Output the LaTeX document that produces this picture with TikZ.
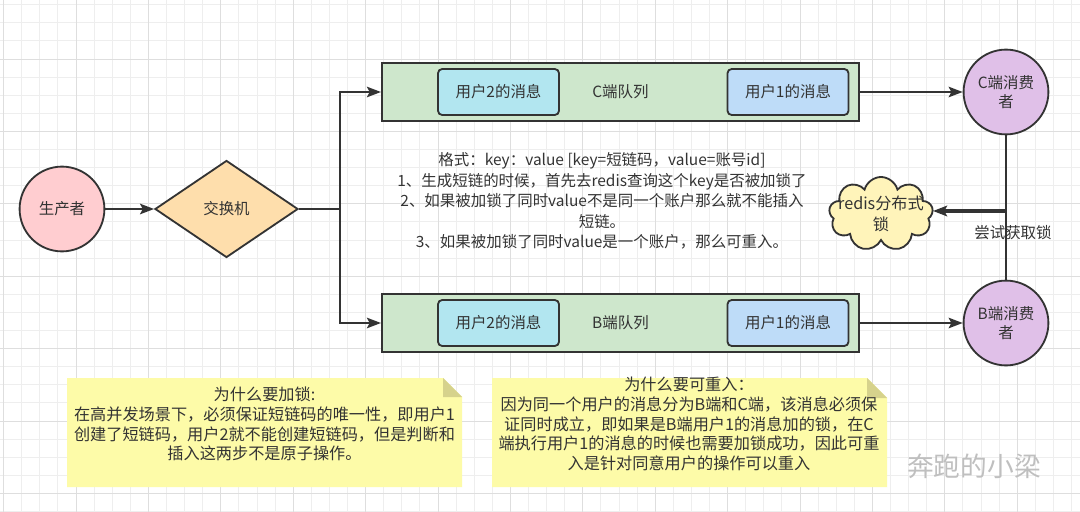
\documentclass[tikz,border=0pt]{standalone}
\usepackage{fontspec}
\setmainfont{Noto Sans CJK SC}
\usetikzlibrary{arrows.meta,shapes.geometric,shapes.symbols,positioning}
\definecolor{inkdark}{RGB}{51,51,51}
\definecolor{producerpink}{RGB}{255,205,208}
\definecolor{switchorange}{RGB}{254,222,172}
\definecolor{queuegreen}{RGB}{206,231,204}
\definecolor{msgcyan}{RGB}{178,230,240}
\definecolor{msgblue}{RGB}{190,220,248}
\definecolor{consumerpurple}{RGB}{224,192,232}
\definecolor{lockyellow}{RGB}{255,244,186}
\definecolor{noteyellow}{RGB}{253,251,168}
\definecolor{notefold}{RGB}{214,210,140}
\definecolor{gridminor}{RGB}{238,238,238}
\definecolor{gridmajor}{RGB}{222,222,222}

\begin{document}
\begin{tikzpicture}[x=0.025cm,y=-0.025cm,
  every node/.style={font=\fontsize{11}{14}\selectfont,text=inkdark},
  wire/.style={line width=1.3pt,draw=inkdark},
  arr/.style={wire,-{Stealth[length=10pt,width=7.5pt,inset=2pt]}},
  heavyarr/.style={arr,line width=2.6pt},
  roundnode/.style={circle,draw=inkdark,line width=1.3pt,minimum size=2.12cm,
    inner sep=0pt,align=center},
  queuebox/.style={rectangle,draw=inkdark,line width=1.4pt,fill=queuegreen,
    minimum width=11.925cm,minimum height=1.45cm},
  msgbox/.style={rectangle,rounded corners=3pt,draw=inkdark,line width=1.3pt,
    minimum width=3.025cm,minimum height=1.15cm},
  notetext/.style={align=center,font=\fontsize{11.5}{14}\selectfont}]
\useasboundingbox (0,0) rectangle (1080,512);
\fill[white] (0,0) rectangle (1080,512);
\foreach \i in {0,...,59}
  \draw[gridminor,line width=0.6pt] ({3.6+18.1*\i},0) -- ({3.6+18.1*\i},512);
\foreach \i in {0,...,28}
  \draw[gridminor,line width=0.6pt] (0,{4.7+18.1*\i}) -- (1080,{4.7+18.1*\i});
\foreach \i in {0,...,14}
  \draw[gridmajor,line width=0.6pt] ({3.6+72.4*\i},0) -- ({3.6+72.4*\i},512);
\foreach \i in {0,...,6}
  \draw[gridmajor,line width=0.6pt] (0,{59+72.4*\i}) -- (1080,{59+72.4*\i});

\node[roundnode,fill=producerpink] (producer) at (62,209) {生产者};
\node[diamond,draw=inkdark,line width=1.3pt,fill=switchorange,aspect=1.47,
  minimum width=3.575cm,minimum height=2.425cm,inner sep=0pt] (exchange) at (226.5,209) {交换机};
\node[queuebox] (cqueue) at (620.5,92) {C端队列};
\node[queuebox] (bqueue) at (620.5,323) {B端队列};
\foreach \q/\y in {c/92,b/323}{
  \node[msgbox,fill=msgcyan] (\q2msg) at (498.5,\y) {用户2的消息};
  \node[msgbox,fill=msgblue] (\q1msg) at (788,\y) {用户1的消息};}
\node[roundnode,fill=consumerpurple] (cconsumer) at (1006,92) {C端消费\\者};
\node[roundnode,fill=consumerpurple] (bconsumer) at (1006,323) {B端消费\\者};
\node[cloud,cloud puffs=9,aspect=1.35,draw=inkdark,line width=1.3pt,fill=lockyellow,
  minimum width=2.6cm,minimum height=1.85cm,inner sep=0pt] (lock) at (881,214) {};
\node[align=center,font=\fontsize{11.5}{14.5}\selectfont] (locktext) at (lock.center) {redis分布式\\锁};

\node[align=center,font=\fontsize{11}{14.5}\selectfont] (rules) at (602,201)
  {格式：key：value [key=短链码，value=账号id]\\
   1、生成短链的时候，首先去redis查询这个key是否被加锁了\\
   2、如果被加锁了同时value不是同一个账户那么就不能插入\\
   短链。\\
   3、如果被加锁了同时value是一个账户，那么可重入。};

\draw[arr] (producer) -- (exchange);
\coordinate (fork) at (340,209);
\draw[wire] (exchange) -- (fork);
\draw[arr] (fork) |- (cqueue);
\draw[arr] (fork) |- (bqueue);
\draw[arr] (cqueue) -- (cconsumer);
\draw[arr] (bqueue) -- (bconsumer);
\draw[wire] (cconsumer) -- (bconsumer);
\coordinate (tap) at (1006,211);
\draw[heavyarr] (tap) -- (tap -| lock.east);
\node (trylock) at (1013,233) {尝试获取锁};

\fill[noteyellow] (67,378) -- (443,378) -- (462,397) -- (462,487) -- (67,487) -- cycle;
\fill[notefold] (443,378) -- (462,397) -- (443,397) -- cycle;
\node[notetext] (whylock) at (264.5,424)
  {为什么要加锁:\\
   在高并发场景下，必须保证短链码的唯一性，即用户1\\
   创建了短链码，用户2就不能创建短链码，但是判断和\\
   插入这两步不是原子操作。};
\fill[noteyellow] (492,378) -- (867,378) -- (887,398) -- (887,487) -- (492,487) -- cycle;
\fill[notefold] (867,378) -- (887,398) -- (867,398) -- cycle;
\node[notetext] (whyreenter) at (689,424)
  {为什么要可重入：\\
   因为同一个用户的消息分为B端和C端，该消息必须保\\
   证同时成立，即如果是B端用户1的消息加的锁，在C\\
   端执行用户1的消息的时候也需要加锁成功，因此可重\\
   入是针对同意用户的操作可以重入};
\node[font=\fontsize{19}{22}\selectfont,text=gray!50] (mark) at (974,466) {奔跑的小梁};
\end{tikzpicture}
\end{document}
